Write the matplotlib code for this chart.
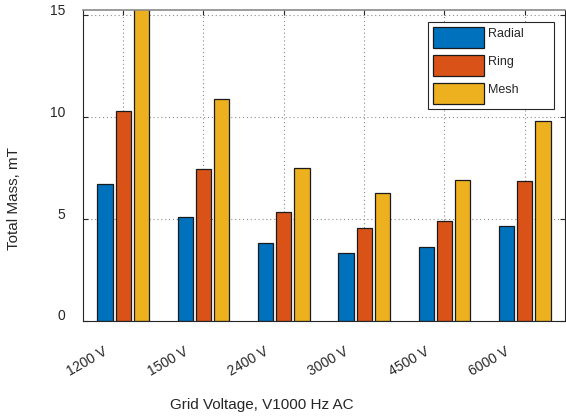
import matplotlib
matplotlib.use("Agg")
import matplotlib.pyplot as plt
import numpy as np
from matplotlib.transforms import ScaledTranslation

categories = ["1200 V", "1500 V", "2400 V", "3000 V", "4500 V", "6000 V"]
series_names = ["Radial", "Ring", "Mesh"]
radial = [6.70, 5.11, 3.85, 3.33, 3.62, 4.64]
ring = [10.30, 7.45, 5.37, 4.54, 4.90, 6.85]
mesh = [15.60, 10.87, 7.50, 6.27, 6.94, 9.81]
colors = ["#0072BD", "#D95319", "#EDB120"]
y_ticks = [0, 5, 10, 15]

plt.rcParams['font.family'] = ['Liberation Sans', 'DejaVu Sans']
txt = '#262626'

fig = plt.figure(figsize=(5.66, 4.16), dpi=100)
ax = fig.add_axes([83/566, 1 - 321/416, (565-83)/566, 311/416])

x = np.arange(1, len(categories) + 1)
offsets = [-0.225, 0.0, 0.225]
width = 0.19
for vals, off, c, name in zip([radial, ring, mesh], offsets, colors, series_names):
    ax.bar(x + off, vals, width, color=c, edgecolor='#1a1a1a', linewidth=0.9,
           label=name, zorder=2)

ax.set_xlim(0.5, 6.5)
ax.set_ylim(0, 15.26)
ax.set_xticks(x)
ax.set_xticklabels(categories)
ax.set_yticks(y_ticks)

ax.grid(True, linestyle=(0, (1, 2.5)), color='#8c8c8c', linewidth=0.8, zorder=0)
ax.set_axisbelow(True)

ax.tick_params(axis='both', direction='in', length=3.5, width=0.8,
               top=True, right=True, colors=txt, labelsize=10)
ax.tick_params(axis='y', pad=13)
ax.tick_params(axis='x', pad=17)

for lab in ax.get_xticklabels():
    lab.set_rotation(30)
    lab.set_ha('right')
    lab.set_va('top')
    lab.set_rotation_mode('anchor')
    lab.set_transform(lab.get_transform() + ScaledTranslation(-20/100, 0, fig.dpi_scale_trans))
for lab in ax.get_yticklabels():
    lab.set_transform(lab.get_transform() + ScaledTranslation(0, 6/100, fig.dpi_scale_trans))

for s in ['left', 'bottom', 'right']:
    ax.spines[s].set_color('#262626')
    ax.spines[s].set_linewidth(0.8)
ax.spines['top'].set_color('#8a8a8a')
ax.spines['top'].set_linewidth(1.2)

ax.set_xlabel("Grid Voltage, V1000 Hz AC", fontsize=11, color=txt)
ax.xaxis.set_label_coords((262-83)/482, -(405-321)/311)
ax.xaxis.label.set_va('center')
ax.set_ylabel("Total Mass, mT", fontsize=11, color=txt)
ax.yaxis.set_label_coords((14-83)/482, (321-199)/311)
ax.yaxis.label.set_va('center')

leg = ax.legend(loc='upper left',
                bbox_to_anchor=((428-83)/482, (321-110)/311, (554-428)/482, 88/311),
                mode='expand', borderaxespad=0, fontsize=9,
                handlelength=4.08, handleheight=2.2, labelspacing=0.56,
                handletextpad=0.32, borderpad=0.4, fancybox=False, framealpha=1)
leg.get_frame().set_edgecolor('#262626')
leg.get_frame().set_linewidth(0.8)
for t in leg.get_texts():
    t.set_color(txt)
    t.set_transform(t.get_transform() + ScaledTranslation(0, 4/100, fig.dpi_scale_trans))

fig.savefig("out.png", dpi=100)
